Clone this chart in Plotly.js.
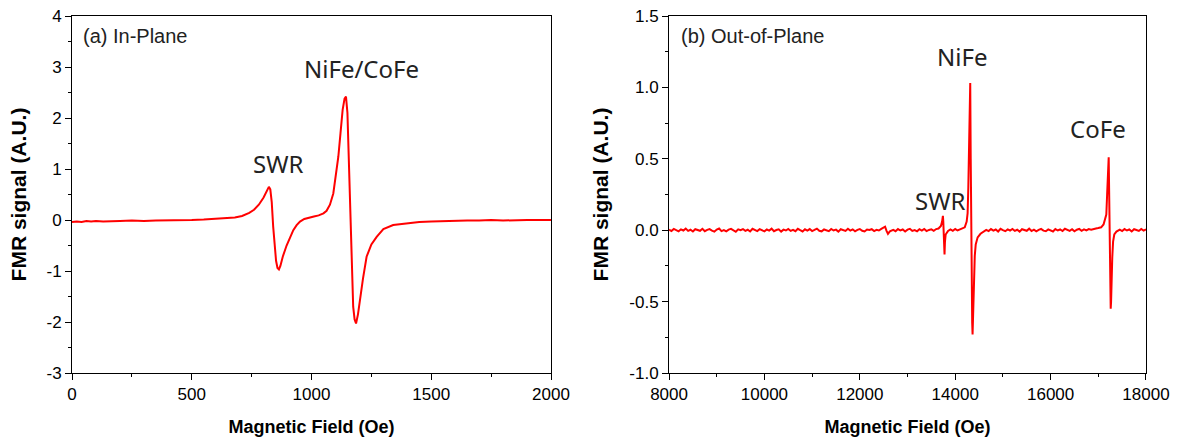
<!DOCTYPE html>
<html>
<head>
<meta charset="utf-8">
<script src="https://cdn.plot.ly/plotly-3.0.1.min.js"></script>
<style>html,body{margin:0;padding:0;background:#fff;}#chart{width:1184px;height:443px;}</style>
</head>
<body>
<div id="chart"></div>
<script>
// Panel (a) In-Plane
const inPlaneField = [0,20,40,60,80,100,130,160,200,250,300,350,400,450,500,550,600,640,680,710,740,760,780,800,812,822,828,834,840,846,852,858,864,870,880,896,910,924,938,952,970,990,1010,1030,1050,1063,1077,1091,1102,1112,1121,1130,1138,1144,1150,1158,1163,1168,1174,1180,1186,1194,1202,1215,1230,1250,1272,1300,1341,1400,1450,1500,1550,1600,1650,1700,1750,1800,1850,1900,1950,2000];
const inPlaneSignal = [-0.04,-0.03,-0.04,-0.02,-0.03,-0.02,-0.03,-0.02,-0.02,-0.01,-0.02,-0.01,-0.01,-0.01,0.0,0.01,0.02,0.03,0.05,0.08,0.14,0.2,0.3,0.44,0.56,0.65,0.6,0.35,-0.13,-0.5,-0.8,-0.94,-0.97,-0.9,-0.72,-0.5,-0.33,-0.2,-0.1,-0.03,0.02,0.05,0.07,0.09,0.13,0.18,0.3,0.52,0.85,1.24,1.7,2.16,2.38,2.42,2.1,0.92,0.2,-0.39,-1.7,-1.95,-2.03,-1.85,-1.57,-1.15,-0.72,-0.48,-0.33,-0.18,-0.1,-0.06,-0.04,-0.03,-0.02,-0.02,-0.01,-0.01,0.0,-0.01,0.0,0.0,0.0,0.0];

// Panel (b) Out-of-Plane
const outPlaneField = [
  8000,8050,8100,8150,8200,8250,8300,8350,8400,8450,8500,8550,8600,8650,8700,8750,8800,8850,8900,8950,
  9000,9050,9100,9150,9200,9250,9300,9350,9400,9450,9500,9550,9600,9650,9700,9750,9800,9850,9900,9950,
  10000,10050,10100,10150,10200,10250,10300,10350,10400,10450,10500,10550,10600,10650,10700,10750,10800,10850,10900,10950,
  11000,11050,11100,11150,11200,11250,11300,11350,11400,11450,11500,11550,11600,11650,11700,11750,11800,11850,11900,11950,
  12000,12050,12100,12150,12200,12250,12300,12350,12400,12450,
  12530,12560,12590,12630,
  12700,12750,12800,12850,12900,12950,13000,13050,13100,13150,13200,13250,13300,13350,13400,13450,13500,13550,13600,13650,
  13700,13725,13742,13750,13758,13768,13776,13785,13800,13850,13900,13950,14000,14050,14100,14150,
  14200,14240,14260,14275,14285,14300,14315,14325,14333,14345,14356,14364,14375,14393,14410,14430,14470,14530,14600,
  14650,14700,14750,14800,14850,14900,14950,15000,15050,15100,15150,15200,15250,15300,15350,15400,15450,15500,15550,15600,
  15650,15700,15750,15800,15850,15900,15950,16000,16050,16100,16150,16200,16250,16300,16350,16400,16450,16500,16550,16600,
  16650,16700,16750,16800,16850,16900,16950,17000,
  17060,17110,17150,17168,17185,17196,17210,17218,17226,17234,17242,17252,17260,17268,17280,17293,17310,17335,17380,
  17450,17500,17550,17600,17650,17700,17750,17800,17850,17900,17950,18000];
const outPlaneSignal = [
  0.004,-0.006,0.009,0.001,-0.008,0.006,-0.002,0.011,-0.005,0.003,-0.009,0.007,0.000,-0.004,0.010,-0.007,0.002,0.008,-0.003,-0.010,
  0.005,0.012,-0.006,0.001,-0.008,0.004,0.009,-0.002,-0.011,0.006,0.000,0.008,-0.005,0.003,-0.009,0.010,-0.001,-0.006,0.007,0.002,
  -0.008,0.005,-0.003,0.011,-0.007,0.001,0.006,-0.010,0.004,-0.002,0.009,-0.005,0.003,-0.007,0.010,0.000,-0.009,0.006,-0.003,0.008,
  -0.006,0.002,0.011,-0.004,-0.008,0.005,0.001,-0.007,0.009,-0.002,0.004,-0.010,0.007,0.000,-0.005,0.010,-0.003,0.006,-0.008,0.002,
  0.008,-0.004,-0.009,0.005,0.001,0.007,-0.006,0.003,-0.002,0.009,
  0.025,-0.005,-0.025,-0.008,
  0.003,-0.007,0.008,-0.002,0.005,-0.009,0.004,0.010,-0.005,0.001,-0.008,0.007,-0.003,0.009,-0.006,0.002,0.006,-0.004,0.008,0.012,
  0.03,0.06,0.10,0.06,-0.05,-0.14,-0.17,-0.08,-0.03,-0.005,0.006,-0.004,0.008,-0.002,0.005,0.010,
  0.02,0.06,0.12,0.3,0.48,0.85,1.03,0.5,-0.05,-0.35,-0.65,-0.73,-0.55,-0.35,-0.18,-0.1,-0.05,-0.025,-0.01,
  0.002,-0.006,0.008,-0.003,0.005,-0.009,0.010,0.001,-0.007,0.006,-0.002,0.009,-0.005,0.003,-0.010,0.007,0.000,-0.004,0.011,-0.006,
  0.004,-0.008,0.002,0.009,-0.003,-0.007,0.006,0.001,-0.009,0.008,-0.002,0.005,-0.006,0.010,0.000,-0.005,0.007,-0.008,0.003,0.009,
  -0.004,0.006,-0.001,0.008,0.004,0.010,0.012,0.015,
  0.02,0.04,0.08,0.11,0.25,0.35,0.5,0.51,0.3,0.05,-0.2,-0.45,-0.55,-0.5,-0.3,-0.19,-0.08,-0.03,-0.01,
  0.004,-0.006,0.008,-0.002,0.005,-0.009,0.007,0.001,-0.005,0.009,-0.003,0.006];

// Tick labels
const leftYTicks = [-3,-2,-1,0,1,2,3,4];
const leftYLabels = ["-3","-2","-1","0","1","2","3","4"];
const leftXTicks = [0,500,1000,1500,2000];
const leftXLabels = ["0","500","1000","1500","2000"];
const rightYTicks = [-1.0,-0.5,0.0,0.5,1.0,1.5];
const rightYLabels = ["-1.0","-0.5","0.0","0.5","1.0","1.5"];
const rightXTicks = [8000,10000,12000,14000,16000,18000];
const rightXLabels = ["8000","10000","12000","14000","16000","18000"];

const tickFont = {family: "Liberation Sans, Arial, sans-serif", size: 17, color: "#000"};
const xTitleFont = {family: "Liberation Sans, Arial, sans-serif", size: 18, color: "#000", weight: "bold"};
const yTitleFont = {family: "Liberation Sans, Arial, sans-serif", size: 21, color: "#000", weight: "bold"};
const annFont = {family: "Liberation Sans, Arial, sans-serif", size: 20, color: "#222"};
const bigFont = {family: "Noto Sans, sans-serif", size: 24, color: "#222"};

function xAxis(domain, range, tickvals, ticktext, minorDtick, anchor) {
  return {
    domain: domain, range: range, anchor: anchor,
    showline: true, linecolor: "#000", linewidth: 1, mirror: true,
    ticks: "outside", ticklen: 6, tickcolor: "#000", tickwidth: 1,
    tickmode: "array", tickvals: tickvals, ticktext: ticktext,
    minor: {ticks: "outside", ticklen: 3, dtick: minorDtick, tickcolor: "#000", showgrid: false},
    showgrid: false, zeroline: false, tickfont: tickFont,
    title: {text: "Magnetic Field (Oe)", font: xTitleFont, standoff: 16}
  };
}
function yAxis(range, tickvals, ticktext, minorDtick, anchor) {
  return {
    domain: [0, 1], range: range, anchor: anchor,
    showline: true, linecolor: "#000", linewidth: 1, mirror: true,
    ticks: "outside", ticklen: 6, tickcolor: "#000", tickwidth: 1,
    tickmode: "array", tickvals: tickvals, ticktext: ticktext,
    minor: {ticks: "outside", ticklen: 3, dtick: minorDtick, tickcolor: "#000", showgrid: false},
    showgrid: false, zeroline: false, tickfont: tickFont,
    title: {text: "FMR signal (A.U.)", font: yTitleFont, standoff: 14}
  };
}

const traces = [
  {x: inPlaneField, y: inPlaneSignal, type: "scatter", mode: "lines", line: {color: "#ff0000", width: 2}, xaxis: "x", yaxis: "y", hoverinfo: "skip"},
  {x: outPlaneField, y: outPlaneSignal, type: "scatter", mode: "lines", line: {color: "#ff0000", width: 2}, xaxis: "x2", yaxis: "y2", hoverinfo: "skip"}
];

const layout = {
  width: 1184, height: 443,
  margin: {l: 72, r: 38, t: 16, b: 70},
  paper_bgcolor: "#fff", plot_bgcolor: "#fff",
  showlegend: false,
  xaxis: xAxis([0, 0.446], [0, 2000], leftXTicks, leftXLabels, 250, "y"),
  yaxis: yAxis([-3, 4], leftYTicks, leftYLabels, 0.5, "x"),
  xaxis2: xAxis([0.5559, 1], [8000, 18000], rightXTicks, rightXLabels, 1000, "y2"),
  yaxis2: yAxis([-1, 1.5], rightYTicks, rightYLabels, 0.25, "x2"),
  annotations: [
    {xref: "x domain", yref: "y domain", x: 0.018, y: 0.945, xanchor: "left", yanchor: "middle", text: "(a) In-Plane", showarrow: false, font: annFont},
    {xref: "x", yref: "y", x: 1208, y: 2.97, text: "NiFe/CoFe", showarrow: false, font: bigFont},
    {xref: "x", yref: "y", x: 862, y: 1.11, text: "SWR", showarrow: false, font: bigFont},
    {xref: "x2 domain", yref: "y2 domain", x: 0.02, y: 0.945, xanchor: "left", yanchor: "middle", text: "(b) Out-of-Plane", showarrow: false, font: annFont},
    {xref: "x2", yref: "y2", x: 14150, y: 1.215, text: "NiFe", showarrow: false, font: bigFont},
    {xref: "x2", yref: "y2", x: 17000, y: 0.71, text: "CoFe", showarrow: false, font: bigFont},
    {xref: "x2", yref: "y2", x: 13690, y: 0.21, text: "SWR", showarrow: false, font: bigFont}
  ]
};

Plotly.newPlot("chart", traces, layout, {staticPlot: true, displayModeBar: false});
</script>
</body>
</html>
